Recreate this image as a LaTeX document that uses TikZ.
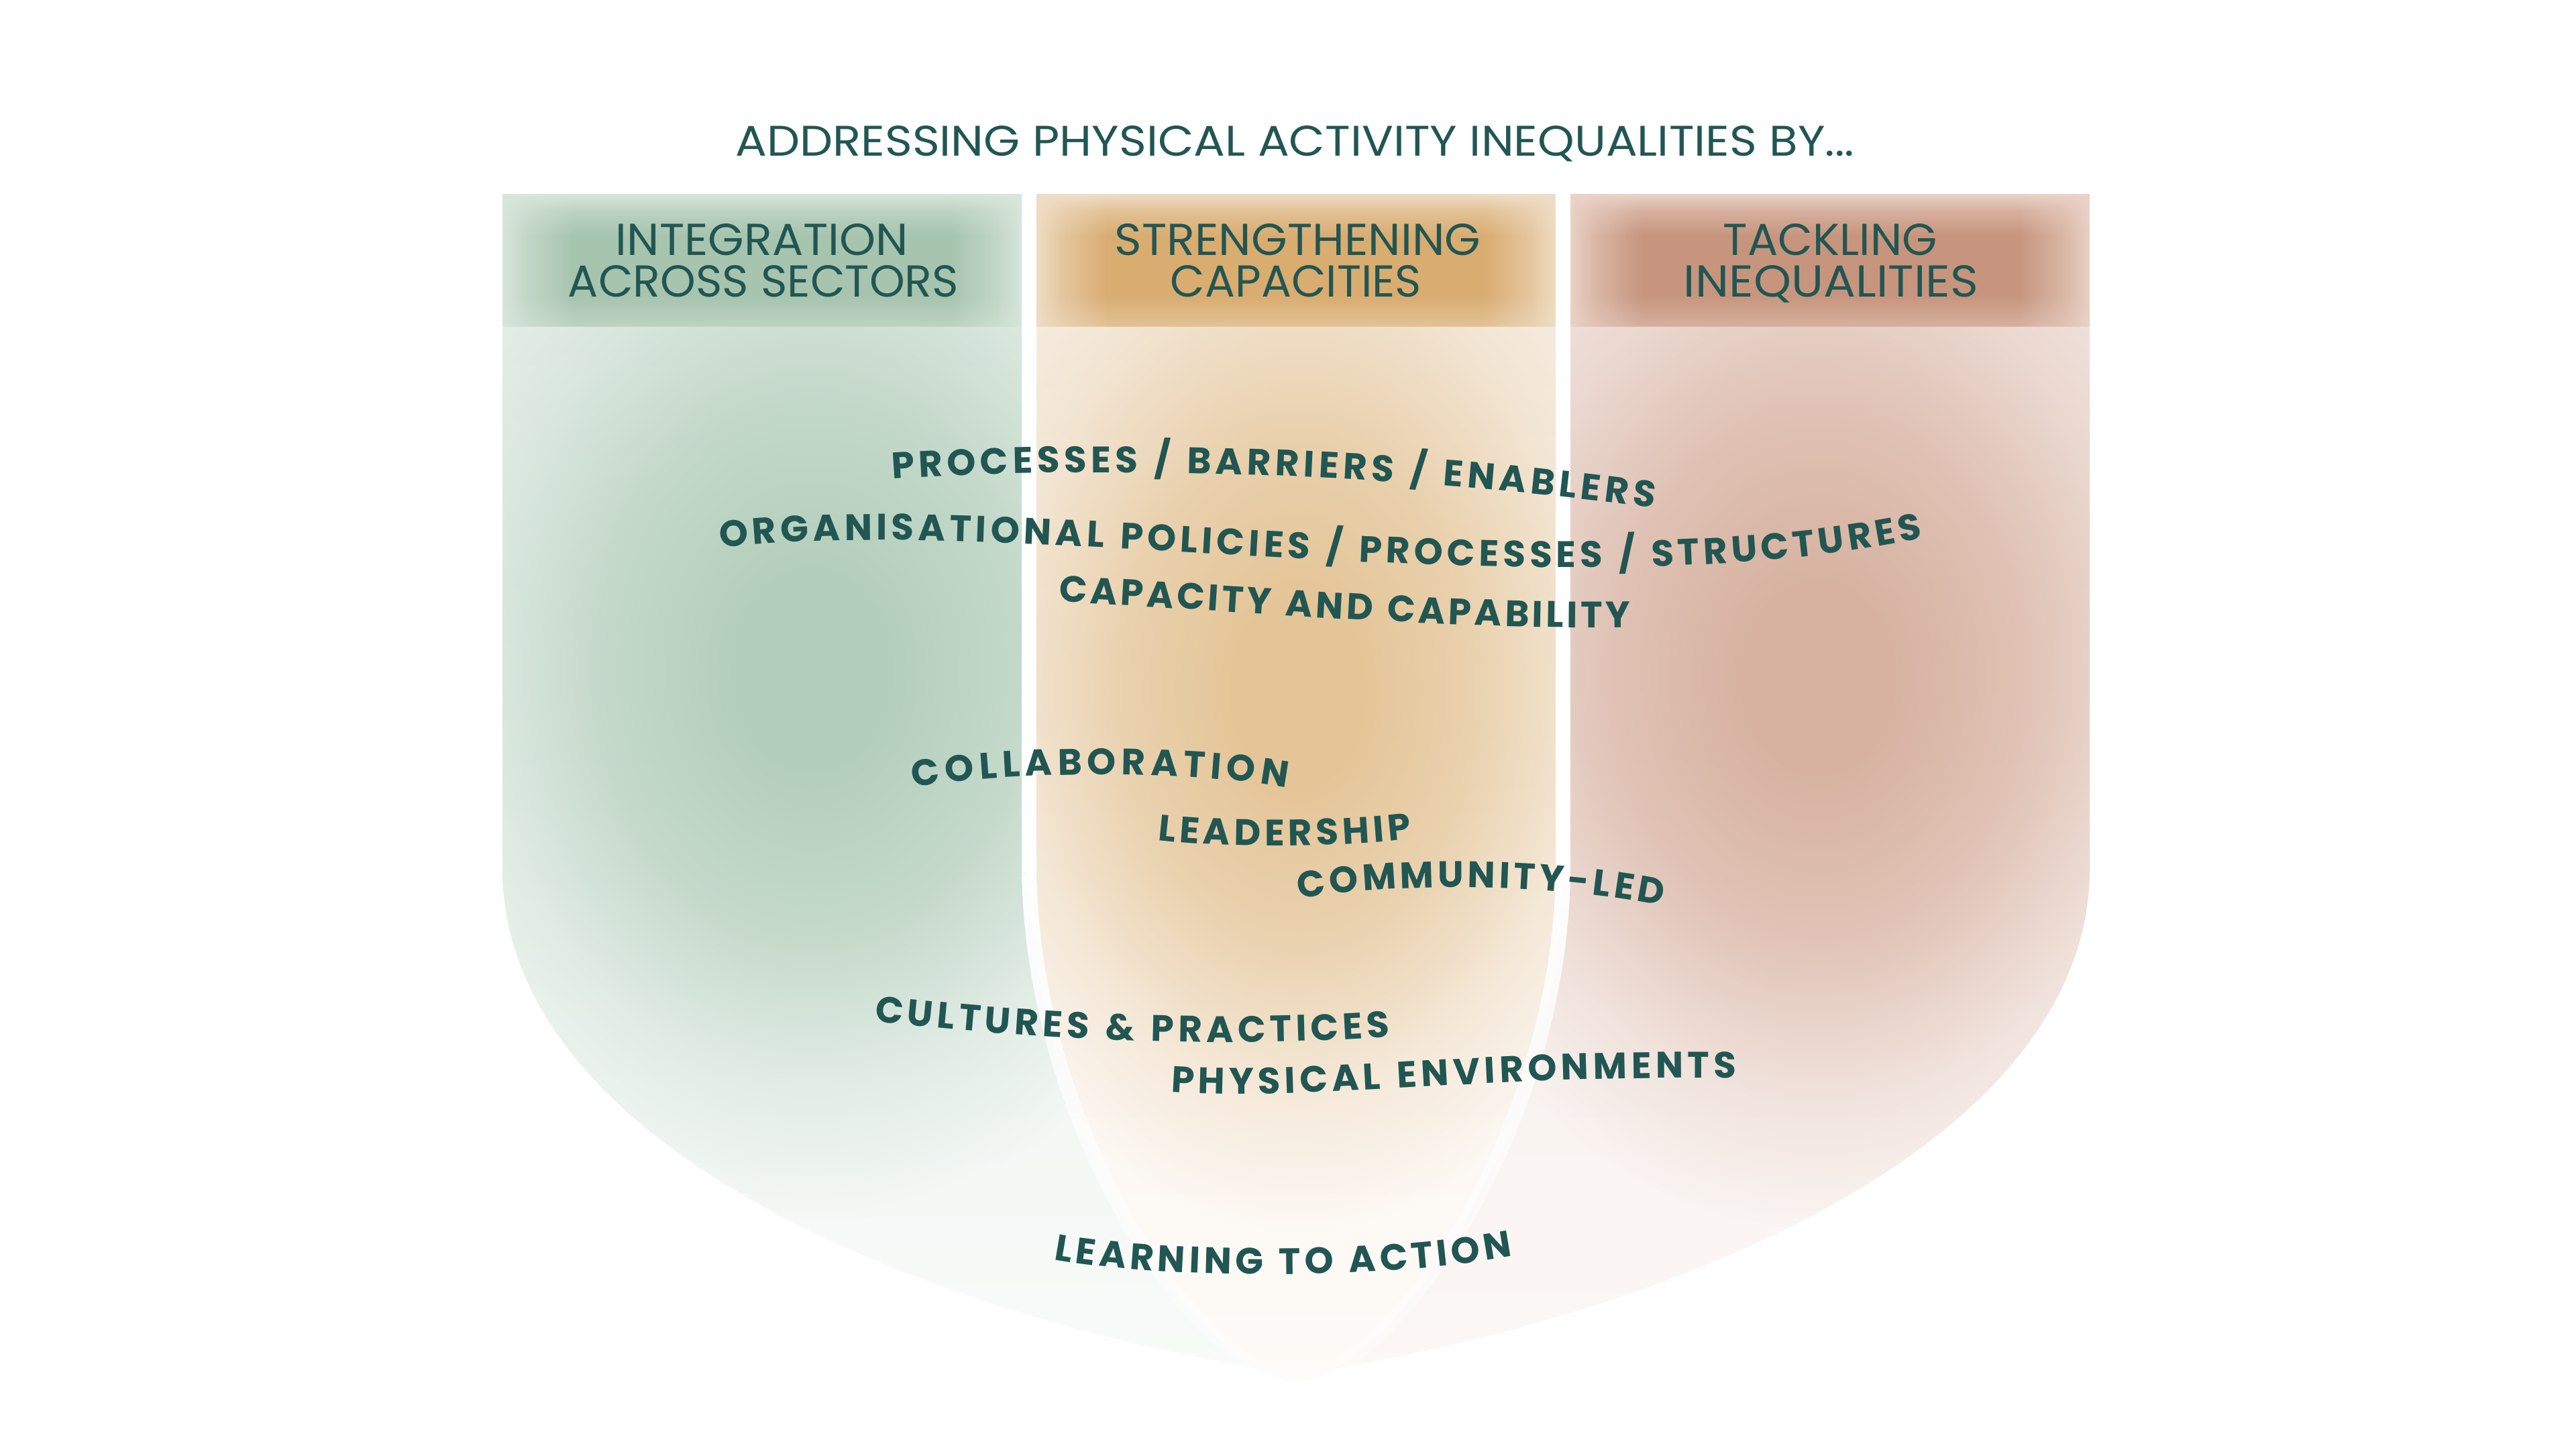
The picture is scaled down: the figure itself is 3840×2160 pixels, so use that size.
\documentclass[tikz,border=0pt]{standalone}
\usepackage{fontspec}
\usepackage{graphicx}
\setmainfont{Poppins}
\newfontfamily\headfont{Poppins}
\newfontfamily\labelfont{Poppins}
\usetikzlibrary{decorations.text,fadings}

\definecolor{ink}{HTML}{215653}
\definecolor{gplat}{HTML}{A6C4AE}
\definecolor{gedge}{HTML}{D8E6DC}
\definecolor{gblob}{HTML}{B3CEBB}
\definecolor{gtop}{HTML}{E6EFE9}
\definecolor{gbot}{HTML}{F8FBF9}
\definecolor{oplat}{HTML}{D9AC70}
\definecolor{oedge}{HTML}{EFDEC6}
\definecolor{oblob}{HTML}{E4C597}
\definecolor{otop}{HTML}{F6EDE1}
\definecolor{obot}{HTML}{FEFBF8}
\definecolor{rplat}{HTML}{C7957D}
\definecolor{redge}{HTML}{EAD3C8}
\definecolor{rblob}{HTML}{D7B2A0}
\definecolor{rtop}{HTML}{F2E6E1}
\definecolor{rbot}{HTML}{FCF8F6}

\pgfdeclarehorizontalshading{hfuzzshade}{100bp}{color(0bp)=(black); color(25bp)=(black); color(27.5bp)=(white!45!black); color(32bp)=(white); color(68bp)=(white); color(72.5bp)=(white!45!black); color(75bp)=(black); color(100bp)=(black)}
\pgfdeclarefading{hfuzz}{\pgfuseshading{hfuzzshade}}
\pgfdeclareverticalshading{topfuzzshade}{100bp}{color(0bp)=(black); color(25bp)=(black); color(55bp)=(white!45!black); color(75bp)=(white); color(100bp)=(white)}
\pgfdeclarefading{topfuzz}{\pgfuseshading{topfuzzshade}}
\pgfdeclareverticalshading{botfuzzshade}{100bp}{color(0bp)=(white); color(25bp)=(white); color(75bp)=(black); color(100bp)=(black)}
\pgfdeclarefading{botfuzz}{\pgfuseshading{botfuzzshade}}

\pgfdeclareradialshading{blobshade}{\pgfpointorigin}{color(0bp)=(white); color(4bp)=(white); color(12bp)=(white!70!black); color(19bp)=(white!25!black); color(25bp)=(black); color(50bp)=(black)}
\pgfdeclarefading{blobfade}{\pgfuseshading{blobshade}}

\pgfdeclareverticalshading{lineshade}{100bp}{color(0bp)=(white!30!black); color(25bp)=(white!30!black); color(75bp)=(white); color(100bp)=(white)}
\pgfdeclarefading{linefade}{\pgfuseshading{lineshade}}

\tikzset{
  headtxt/.style={inner sep=0pt, text=ink, font=\headfont, anchor=base},
  lbl/.style={decorate, decoration={text along path, text align=fit to path, text color=ink, text={#1}}},
  sepline/.style={draw=white, line width=0.22cm}
}

% header box: x1, x2, plateau colour, edge colour
\newcommand\hdrbox[4]{%
  \fill[#4] (#1,289) rectangle (#2,487);
  \fill[#3, path fading=hfuzz, fit fading=true] (#1,289) rectangle (#2,487);
  \fill[#4, path fading=topfuzz, fit fading=true] (#1,289) rectangle (#2,352);
  \fill[#4, opacity=0.45, path fading=botfuzz, fit fading=true] (#1,440) rectangle (#2,487);
}

\begin{document}
\begin{tikzpicture}[x=0.01cm,y=-0.01cm]
\useasboundingbox (0,0) rectangle (3840,2160);
\fill[white] (0,0) rectangle (3840,2160);

% green body
\begin{scope}
\clip (749,487) -- (749,1300) .. controls (755,1700) and (1350,1960) .. (1940,2050) -- (1940,487) -- cycle;
\shade[top color=gtop, bottom color=gbot] (740,480) rectangle (1950,2060);
\fill[gblob, path fading=blobfade, fit fading=true] (1210,1000) ellipse (650 and 820);
\end{scope}

% red body
\begin{scope}
\clip (3115,487) -- (3115,1300) .. controls (3109,1700) and (2514,1960) .. (1925,2050) -- (1925,487) -- cycle;
\shade[top color=rtop, bottom color=rbot] (1920,480) rectangle (3125,2060);
\fill[rblob, path fading=blobfade, fit fading=true] (2710,1010) ellipse (650 and 820);
\end{scope}

% middle body
\begin{scope}
\clip (1534,487) -- (1534,1300) .. controls (1540,1700) and (1800,2055) .. (1932,2058) .. controls (2064,2055) and (2324,1700) .. (2330,1300) -- (2330,487) -- cycle;
\shade[top color=otop, bottom color=obot] (1520,480) rectangle (2340,2060);
\fill[oblob, path fading=blobfade, fit fading=true] (1935,1030) ellipse (560 and 800);
\end{scope}

% separating white lines
\path[sepline] (1534,280) -- (1534,1300);
\path[sepline] (2330,280) -- (2330,1300);
\path[sepline, path fading=linefade, fit fading=true] (1534,1300) .. controls (1540,1700) and (1800,2055) .. (1932,2058);
\path[sepline, path fading=linefade, fit fading=true] (2330,1300) .. controls (2324,1700) and (2064,2055) .. (1932,2058);

% headers
\hdrbox{749}{1523}{gplat}{gedge}
\hdrbox{1545}{2319}{oplat}{oedge}
\hdrbox{2341}{3115}{rplat}{redge}

% title
\node[headtxt] (title) at (1930.5,232) {\resizebox{16.67cm}{0.45cm}{ADDRESSING PHYSICAL ACTIVITY INEQUALITIES BY...}};

% header texts
\node[headtxt] (h1a) at (1136,380) {\resizebox{4.36cm}{0.47cm}{INTEGRATION}};
\node[headtxt] (h1b) at (1138,442) {\resizebox{5.82cm}{0.47cm}{ACROSS SECTORS}};
\node[headtxt] (h2a) at (1934.5,380) {\resizebox{5.45cm}{0.47cm}{STRENGTHENING}};
\node[headtxt] (h2b) at (1932,442) {\resizebox{3.74cm}{0.47cm}{CAPACITIES}};
\node[headtxt] (h3a) at (2728.5,380) {\resizebox{3.19cm}{0.47cm}{TACKLING}};
\node[headtxt] (h3b) at (2729.5,442) {\resizebox{4.39cm}{0.47cm}{INEQUALITIES}};

% curved labels
\begin{scope}
\labelfont\bfseries\fontsize{15.6pt}{18pt}\selectfont
\path[lbl={PROCESSES / BARRIERS / ENABLERS}] (1330,714) .. controls (1600,695) and (2050,700) .. (2465,757);
\path[lbl={ORGANISATIONAL POLICIES / PROCESSES / STRUCTURES}] (1074,817) .. controls (1500,762) and (2320,917) .. (2865,802);
\path[lbl={CAPACITY AND CAPABILITY}] (1578,897) .. controls (1800,907) and (2150,939) .. (2430,935);
\path[lbl={COLLABORATION}] (1362,1174) .. controls (1500,1148) and (1780,1148) .. (1918,1174);
\path[lbl={LEADERSHIP}] (1725,1252) .. controls (1830,1264) and (1980,1264) .. (2105,1250);
\path[lbl={COMMUNITY-LED}] (1937,1340) .. controls (2080,1315) and (2300,1315) .. (2478,1350);
\path[lbl={CULTURES {\&} PRACTICES}] (1303,1522) .. controls (1500,1545) and (1800,1565) .. (2072,1545);
\path[lbl={PHYSICAL ENVIRONMENTS}] (1745,1627) .. controls (1950,1642) and (2200,1602) .. (2588,1607);
\path[lbl={LEARNING TO ACTION}] (1570,1877) .. controls (1720,1905) and (2050,1910) .. (2255,1872);
\end{scope}
\end{tikzpicture}
\end{document}
